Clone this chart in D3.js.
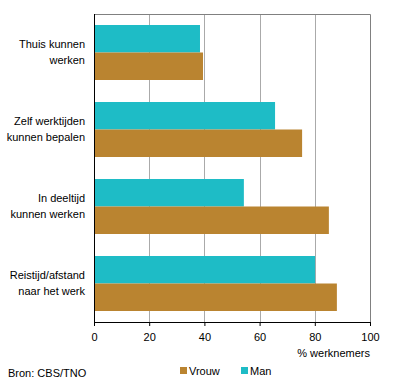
<!DOCTYPE html>
<html>
<head>
<meta charset="utf-8">
<script src="https://cdn.jsdelivr.net/npm/d3@7"></script>
<style>
  body { margin: 0; background: #fff; }
  text { font-family: "Liberation Sans", Arial, sans-serif; font-size: 11px; fill: #000; }
</style>
</head>
<body>
<div id="chart"></div>
<script>
// Gegevens
const categories = [
    ["Thuis kunnen", "werken"],
    ["Zelf werktijden", "kunnen bepalen"],
    ["In deeltijd", "kunnen werken"],
    ["Reistijd/afstand", "naar het werk"]
];
const series = ["Man", "Vrouw"];
const manValues = [38.4, 65.6, 54.3, 80.1];
const vrouwValues = [39.5, 75.4, 85.1, 88.0];
const xTicks = [0, 20, 40, 60, 80, 100];

const colors = { Man: "#1ebcc6", Vrouw: "#ba8430" };

const width = 396, height = 386;
const margin = { top: 14, right: 26, bottom: 64, left: 94 };
const w = width - margin.left - margin.right;
const h = height - margin.top - margin.bottom;

const svg = d3.select("#chart").append("svg")
    .attr("width", width)
    .attr("height", height);

const g = svg.append("g").attr("transform", `translate(${margin.left},${margin.top})`);

const x = d3.scaleLinear().domain([0, 100]).range([0, w]);
const y = d3.scaleBand().domain(d3.range(categories.length)).range([0, h])
    .paddingInner(2 / 7).paddingOuter(1 / 7);
const ySub = d3.scaleBand().domain(series).range([0, y.bandwidth()]);

// Rasterlijnen
g.selectAll(".grid")
    .data(xTicks.slice(1, -1))
    .enter().append("line")
    .attr("x1", d => Math.round(x(d)) + 0.5)
    .attr("x2", d => Math.round(x(d)) + 0.5)
    .attr("y1", 0).attr("y2", h)
    .attr("stroke", "#aaaaaa");

// Rand boven en rechts
g.append("path")
    .attr("d", `M0,0.5H${w + 0.5}V${h}`)
    .attr("fill", "none")
    .attr("stroke", "#808080");

// Balken
const data = categories.map((c, i) => ({ i, Man: manValues[i], Vrouw: vrouwValues[i] }));
const groups = g.selectAll(".cat").data(data).enter().append("g")
    .attr("transform", d => `translate(0,${y(d.i)})`);
groups.selectAll("rect")
    .data(d => series.map(s => ({ s, v: d[s] })))
    .enter().append("rect")
    .attr("x", 0)
    .attr("y", d => ySub(d.s))
    .attr("width", d => x(d.v))
    .attr("height", ySub.bandwidth())
    .attr("fill", d => colors[d.s]);

// Categorie labels
groups.append("text")
    .attr("x", -9)
    .attr("y", y.bandwidth() / 2)
    .attr("text-anchor", "end")
    .selectAll("tspan")
    .data((d) => categories[d.i].map((t, k) => ({ t, k })))
    .enter().append("tspan")
    .attr("x", -9)
    .attr("dy", d => d.k === 0 ? "-0.38em" : "1.45em")
    .text(d => d.t);

// Assen
g.append("line")
    .attr("x1", 0.5).attr("x2", 0.5).attr("y1", 0).attr("y2", h + 4)
    .attr("stroke", "#000");

const xAxis = g.append("g")
    .attr("transform", `translate(0,${h})`)
    .call(d3.axisBottom(x).tickValues(xTicks).tickSize(4).tickSizeOuter(0));
xAxis.select(".domain").attr("stroke", "#000");
xAxis.selectAll(".tick line").attr("stroke", "#000");
xAxis.selectAll(".tick text")
    .attr("y", 11)
    .style("font-family", "'Liberation Sans', Arial, sans-serif")
    .style("font-size", "11px");

g.append("text")
    .attr("x", w)
    .attr("y", h + 35)
    .attr("text-anchor", "end")
    .text("% werknemers");

// Legenda
const legendItems = [
    { s: "Vrouw", x: 180 },
    { s: "Man", x: 241 }
];
const legend = svg.append("g").attr("transform", `translate(0,${height - 19})`);
legendItems.forEach(item => {
    legend.append("rect")
        .attr("x", item.x).attr("y", 0)
        .attr("width", 7).attr("height", 7)
        .attr("fill", colors[item.s]);
    legend.append("text")
        .attr("x", item.x + 9).attr("y", 7.5)
        .text(item.s);
});

svg.append("text")
    .attr("x", 8)
    .attr("y", height - 9)
    .text("Bron: CBS/TNO");
</script>
</body>
</html>
